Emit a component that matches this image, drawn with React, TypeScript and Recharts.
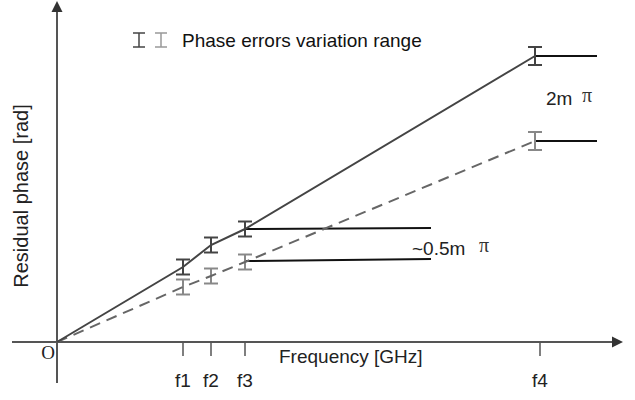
import React from 'react';
import { ComposedChart, Line, Scatter, XAxis, YAxis, ErrorBar, ReferenceLine } from 'recharts';

// frequency positions (arbitrary units) and residual phase values
const freqs = [0, 1.26, 1.54, 1.88, 4.78];
const solidPhase = [0, 75, 97, 113, 286];
const dashedPhase = [0, 55, 66, 80, 201];
const phaseErr = [0, 7.5, 7.5, 7.5, 9];

const tickFreqs = [1.26, 1.54, 1.88, 4.83];
const tickLabels = ['f1', 'f2', 'f3', 'f4'];

// flat segments starting at f3 and f4
const stepStart = [1.88, 4.78];
const stepEnd = [3.74, 5.4];
const solidStep = [[113, 114], [286, 286]];
const dashedStep = [[81, 83], [201, 201]];

const xDomain = [-0.45, 5.7];
const yDomain = [-41, 341];
const xArrowTip = [{ f: 5.66, phase: 0 }];
const yArrowTip = [{ f: 0, phase: 341 }];

const solidData = freqs.map((f, i) => ({ f, phase: solidPhase[i], err: phaseErr[i] || null }));
const dashedData = freqs.map((f, i) => ({ f, phase: dashedPhase[i], err: phaseErr[i] || null }));

const FONT = '"Liberation Sans", Arial, sans-serif';
const SERIF = '"Liberation Serif", serif';
const AXIS = '#555';

const XArrow = (p: any) => (
  <polygon points={`${p.cx},${p.cy} ${p.cx - 11},${p.cy - 5.5} ${p.cx - 11},${p.cy + 5.5}`} fill="#333" />
);
const YArrow = (p: any) => (
  <polygon points={`${p.cx},${p.cy} ${p.cx - 5.5},${p.cy + 11} ${p.cx + 5.5},${p.cy + 11}`} fill="#333" />
);

const FreqTick = (props: any) => {
  const { x, y, payload } = props;
  const label = tickLabels[tickFreqs.indexOf(payload.value)];
  return (
    <text x={x} y={y + 2} textAnchor="middle" fontFamily={FONT} fontSize={19} fill="#222">
      {label}
    </text>
  );
};

export default function App() {
  return (
    <div style={{ position: 'absolute', left: 0, top: 0, width: 635, height: 400, background: '#fff' }}>
      <ComposedChart width={635} height={400} margin={{ top: 1, right: 8, bottom: 0, left: 12 }}>
        <XAxis
          dataKey="f"
          type="number"
          domain={xDomain}
          allowDataOverflow
          ticks={tickFreqs}
          interval={0}
          height={17}
          axisLine={false}
          tickLine={false}
          tickSize={0}
          tick={<FreqTick />}
        />
        <YAxis dataKey="phase" type="number" domain={yDomain} allowDataOverflow hide />

        {/* axes */}
        <ReferenceLine segment={[{ x: xDomain[0], y: 0 }, { x: 5.6, y: 0 }]} stroke={AXIS} strokeWidth={2} />
        <ReferenceLine segment={[{ x: 0, y: yDomain[0] }, { x: 0, y: 335 }]} stroke={AXIS} strokeWidth={2} />
        {tickFreqs.map((f) => (
          <ReferenceLine key={f} segment={[{ x: f, y: 0 }, { x: f, y: -14 }]} stroke={AXIS} strokeWidth={1.5} />
        ))}

        {/* flat steps */}
        {stepStart.map((s, i) => (
          <ReferenceLine
            key={'s' + i}
            segment={[{ x: s, y: solidStep[i][0] }, { x: stepEnd[i], y: solidStep[i][1] }]}
            stroke="#111"
            strokeWidth={2}
          />
        ))}
        {stepStart.map((s, i) => (
          <ReferenceLine
            key={'d' + i}
            segment={[{ x: s, y: dashedStep[i][0] }, { x: stepEnd[i], y: dashedStep[i][1] }]}
            stroke="#111"
            strokeWidth={2}
          />
        ))}

        <Line
          data={dashedData}
          dataKey="phase"
          type="linear"
          stroke="#666"
          strokeWidth={2}
          strokeDasharray="11 7"
          dot={false}
          isAnimationActive={false}
        >
          <ErrorBar dataKey="err" width={7} stroke="#888" strokeWidth={2} direction="y" isAnimationActive={false} />
        </Line>
        <Line
          data={solidData}
          dataKey="phase"
          type="linear"
          stroke="#444"
          strokeWidth={2}
          dot={false}
          isAnimationActive={false}
        >
          <ErrorBar dataKey="err" width={7} stroke="#444" strokeWidth={2} direction="y" isAnimationActive={false} />
        </Line>

        <Scatter data={xArrowTip} shape={<XArrow />} isAnimationActive={false} />
        <Scatter data={yArrowTip} shape={<YArrow />} isAnimationActive={false} />
      </ComposedChart>

      <svg width={635} height={400} style={{ position: 'absolute', left: 0, top: 0, pointerEvents: 'none' }}>
        {/* legend */}
        <g stroke="#444" strokeWidth={1.5}>
          <line x1={133} y1={33} x2={145} y2={33} />
          <line x1={139} y1={33} x2={139} y2={47} />
          <line x1={133} y1={47} x2={145} y2={47} />
        </g>
        <g stroke="#999" strokeWidth={1.5}>
          <line x1={155} y1={33} x2={167} y2={33} />
          <line x1={161} y1={33} x2={161} y2={47} />
          <line x1={155} y1={47} x2={167} y2={47} />
        </g>
        <text x={182} y={47} fontFamily={FONT} fontSize={19} fill="#111">
          Phase errors variation range
        </text>

        <text x={546} y={105} fontFamily={FONT} fontSize={19} fill="#222">2m</text>
        <text x={582} y={102} fontFamily={SERIF} fontSize={20} fill="#333">π</text>

        <text x={412} y={255} fontFamily={FONT} fontSize={19} fill="#222">~0.5m</text>
        <text x={479} y={252} fontFamily={SERIF} fontSize={20} fill="#333">π</text>

        <text x={279} y={363} fontFamily={FONT} fontSize={19} fill="#222">Frequency [GHz]</text>
        <text x={48} y={359} textAnchor="middle" fontFamily={SERIF} fontSize={19} fill="#222">O</text>
        <text
          x={28}
          y={196}
          transform="rotate(-90 28 196)"
          textAnchor="middle"
          fontFamily={FONT}
          fontSize={20}
          fill="#222"
        >
          Residual phase [rad]
        </text>
      </svg>
    </div>
  );
}
